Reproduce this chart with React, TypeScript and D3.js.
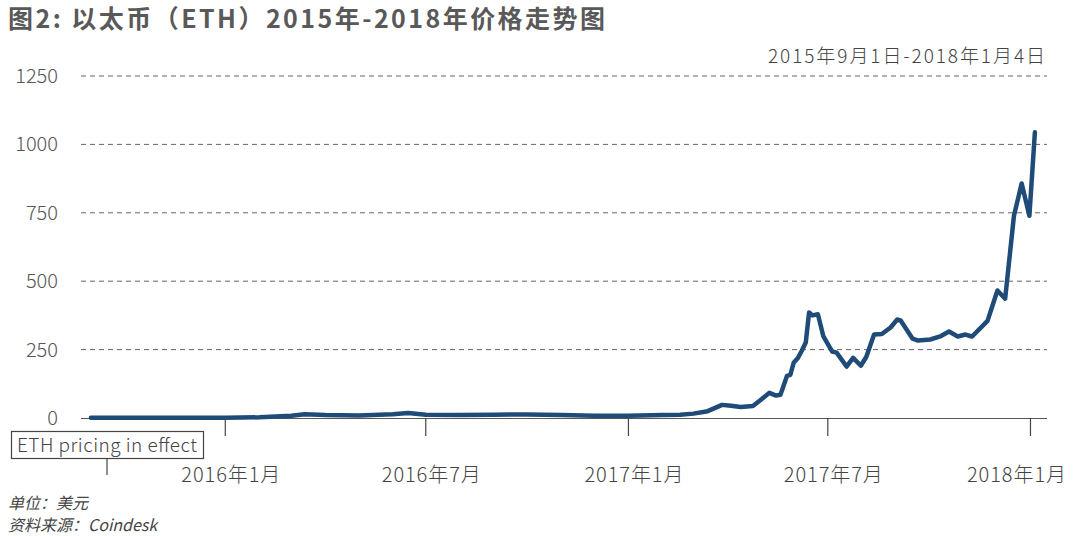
import { useEffect, useRef } from "react";
import * as d3 from "d3";

// ETH price (USD)
const dates = [
    "2015-09-01", "2015-10-01", "2015-11-01", "2015-12-01", "2016-01-01",
    "2016-02-01", "2016-03-01", "2016-03-13", "2016-04-01", "2016-05-01",
    "2016-06-01", "2016-06-15", "2016-07-01", "2016-08-01", "2016-09-01",
    "2016-10-01", "2016-11-01", "2016-12-01", "2017-01-01", "2017-02-01",
    "2017-02-17", "2017-03-01", "2017-03-14", "2017-03-27", "2017-04-04",
    "2017-04-13", "2017-04-24", "2017-05-01", "2017-05-09", "2017-05-15",
    "2017-05-19", "2017-05-25", "2017-05-28", "2017-05-31", "2017-06-04",
    "2017-06-07", "2017-06-11", "2017-06-14", "2017-06-17", "2017-06-22",
    "2017-06-27", "2017-07-05", "2017-07-09", "2017-07-18", "2017-07-24",
    "2017-07-31", "2017-08-05", "2017-08-12", "2017-08-19", "2017-08-27",
    "2017-09-02", "2017-09-05", "2017-09-16", "2017-09-21", "2017-10-02",
    "2017-10-11", "2017-10-19", "2017-10-27", "2017-11-03", "2017-11-09",
    "2017-11-23", "2017-12-02", "2017-12-09", "2017-12-17", "2017-12-24",
    "2017-12-31", "2018-01-05",
];
const prices = [
    1.3, 0.7, 1.0, 0.9, 1.0,
    2.5, 8, 14, 11, 9,
    14, 18, 12, 11, 12,
    13, 11, 8, 8, 11,
    12, 16, 25, 48, 45,
    40, 44, 66, 92, 82,
    85, 154, 158, 202, 220,
    243, 276, 386, 375, 379,
    298, 243, 239, 188, 220,
    191, 224, 305, 307, 331,
    360, 357, 290, 283, 287,
    298, 316, 298, 305, 298,
    355, 466, 436, 739, 857,
    739, 1044,
];
const yTicks = [0, 250, 500, 750, 1000, 1250];
const xTicks = ["2016-01-01", "2016-07-01", "2017-01-01", "2017-07-01", "2018-01-01"];
const xTickLabels = ["2016年1月", "2016年7月", "2017年1月", "2017年7月", "2018年1月"];

const FONT = "'Noto Sans CJK SC', 'Noto Sans', sans-serif";

export default function App() {
    const svgRef = useRef<SVGSVGElement | null>(null);

    useEffect(() => {
        if (!svgRef.current) return;
        const root = d3.select(svgRef.current);
        root.selectAll("*").remove();

        const width = 1080;
        const height = 536;
        const parse = d3.timeParse("%Y-%m-%d");
        const data = dates.map((d, i) => ({ date: parse(d) as Date, value: prices[i] }));

        const x = d3
            .scaleTime()
            .domain([parse("2015-08-23") as Date, parse("2018-01-16") as Date])
            .range([81, 1047]);
        const y = d3.scaleLinear().domain([0, 1250]).range([418, 76]);

        const svg = root.attr("width", width).attr("height", height).style("font-family", FONT);

        svg.append("rect").attr("width", width).attr("height", height).attr("fill", "#ffffff");

        // Title
        svg.append("text")
            .attr("x", 8)
            .attr("y", 28)
            .attr("font-size", 25)
            .attr("font-weight", 600)
            .attr("fill", "#595959")
            .attr("textLength", 597)
            .attr("lengthAdjust", "spacing")
            .text("图2: 以太币（ETH）2015年-2018年价格走势图");

        svg.append("text")
            .attr("x", 1045)
            .attr("y", 63)
            .attr("text-anchor", "end")
            .attr("font-size", 19)
            .attr("font-weight", 300)
            .attr("fill", "#444")
            .attr("textLength", 277)
            .attr("lengthAdjust", "spacing")
            .text("2015年9月1日-2018年1月4日");

        // Gridlines
        svg.append("g")
            .selectAll("line")
            .data(yTicks.filter((t) => t > 0))
            .enter()
            .append("line")
            .attr("x1", 81)
            .attr("x2", 1047)
            .attr("y1", (d) => y(d))
            .attr("y2", (d) => y(d))
            .attr("stroke", "#666")
            .attr("stroke-width", 1)
            .attr("stroke-dasharray", "5,4");

        // Y labels
        svg.append("g")
            .selectAll("text")
            .data(yTicks)
            .enter()
            .append("text")
            .attr("x", 58)
            .attr("y", (d) => y(d) + 7)
            .attr("text-anchor", "end")
            .attr("font-size", 20)
            .attr("font-weight", 300)
            .attr("fill", "#555")
            .text((d) => d);

        // X axis
        svg.append("line")
            .attr("x1", 81)
            .attr("x2", 1047)
            .attr("y1", 418.5)
            .attr("y2", 418.5)
            .attr("stroke", "#555")
            .attr("stroke-width", 1.2);

        const xt = svg.append("g");
        xt.selectAll("line")
            .data(xTicks)
            .enter()
            .append("line")
            .attr("x1", (d) => x(parse(d) as Date))
            .attr("x2", (d) => x(parse(d) as Date))
            .attr("y1", 418)
            .attr("y2", 436)
            .attr("stroke", "#444")
            .attr("stroke-width", 1.2);
        // labels sit a little right of their tick, the last one kept inside the frame
        xt.selectAll("text")
            .data(xTicks)
            .enter()
            .append("text")
            .attr("x", (d) => Math.min(x(parse(d) as Date) + 6, 1017) - 50)
            .attr("y", 482)
            .attr("font-size", 20)
            .attr("font-weight", 300)
            .attr("fill", "#444")
            .attr("textLength", 99)
            .attr("lengthAdjust", "spacing")
            .text((d, i) => xTickLabels[i]);

        // ETH pricing note
        svg.append("rect")
            .attr("x", 11.5)
            .attr("y", 431.5)
            .attr("width", 192)
            .attr("height", 27)
            .attr("fill", "none")
            .attr("stroke", "#444")
            .attr("stroke-width", 1.2);
        svg.append("text")
            .attr("x", 17)
            .attr("y", 452)
            .attr("font-size", 19)
            .attr("font-weight", 300)
            .attr("fill", "#444")
            .attr("textLength", 180)
            .attr("lengthAdjust", "spacing")
            .text("ETH pricing in effect");
        svg.append("line")
            .attr("x1", 107)
            .attr("x2", 107)
            .attr("y1", 459)
            .attr("y2", 475)
            .attr("stroke", "#444")
            .attr("stroke-width", 1.2);

        // Price line
        const line = d3
            .line<{ date: Date; value: number }>()
            .x((d) => x(d.date))
            .y((d) => y(d.value))
            .curve(d3.curveLinear);
        svg.append("path")
            .datum(data)
            .attr("d", line)
            .attr("fill", "none")
            .attr("stroke", "#1e4b78")
            .attr("stroke-width", 4.5)
            .attr("stroke-linejoin", "round")
            .attr("stroke-linecap", "round");

        // Footer
        svg.append("text")
            .attr("x", 8)
            .attr("y", 509)
            .attr("font-size", 16)
            .attr("font-style", "italic")
            .attr("fill", "#444")
            .text("单位：美元");
        svg.append("text")
            .attr("x", 8)
            .attr("y", 531)
            .attr("font-size", 16)
            .attr("font-style", "italic")
            .attr("fill", "#444")
            .text("资料来源：Coindesk");
    }, []);

    return (
        <div style={{ position: "absolute", left: 0, top: 0 }}>
            <svg ref={svgRef} width={1080} height={536} style={{ display: "block" }} />
        </div>
    );
}
